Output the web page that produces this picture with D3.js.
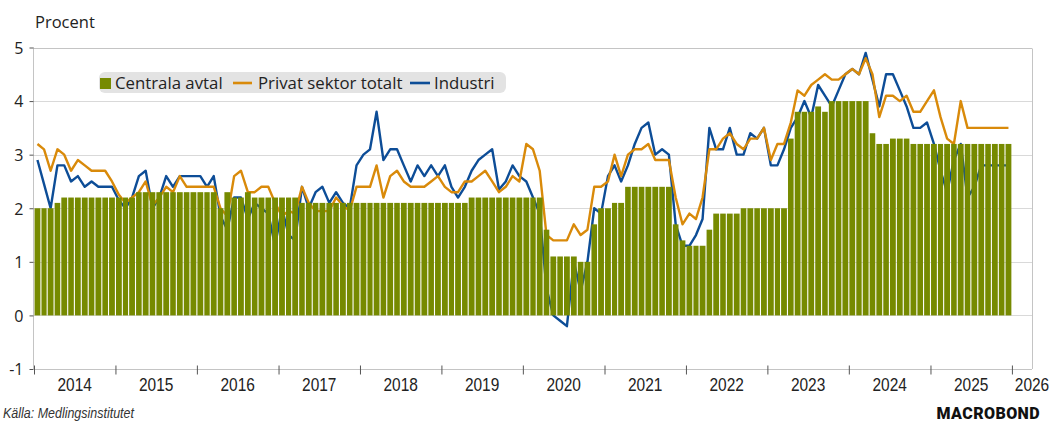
<!DOCTYPE html>
<html><head><meta charset="utf-8">
<script src="https://cdn.jsdelivr.net/npm/d3@7"></script>
<style>
body{margin:0;background:#fff;}
svg{display:block;font-family:"Open Sans","Noto Sans",sans-serif;}
</style>
</head><body><svg id="c" width="1054" height="422"></svg>
<script>
// ---- data (monthly, Jan 2014 - Dec 2025) ----
const startYear = 2014;
const centralaAvtal = [
  2.0,2.0,2.0,2.1,2.2,2.2,2.2,2.2,2.2,2.2,2.2,2.2,
  2.2,2.2,2.2,2.3,2.3,2.3,2.3,2.3,2.3,2.3,2.3,2.3,
  2.3,2.3,2.3,2.0,2.3,2.2,2.2,2.3,2.2,2.2,2.2,2.2,
  2.2,2.2,2.2,2.1,2.1,2.1,2.1,2.1,2.1,2.1,2.1,2.1,
  2.1,2.1,2.1,2.1,2.1,2.1,2.1,2.1,2.1,2.1,2.1,2.1,
  2.1,2.1,2.1,2.1,2.2,2.2,2.2,2.2,2.2,2.2,2.2,2.2,
  2.2,2.2,2.2,1.6,1.1,1.1,1.1,1.1,1.0,1.0,1.7,2.0,
  2.0,2.1,2.1,2.4,2.4,2.4,2.4,2.4,2.4,2.4,1.7,1.4,
  1.3,1.3,1.3,1.6,1.9,1.9,1.9,1.9,2.0,2.0,2.0,2.0,
  2.0,2.0,2.0,3.3,3.8,3.8,3.8,3.9,3.8,4.0,4.0,4.0,
  4.0,4.0,4.0,3.4,3.2,3.2,3.3,3.3,3.3,3.2,3.2,3.2,
  3.2,3.2,3.2,3.2,3.2,3.2,3.2,3.2,3.2,3.2,3.2,3.2
];
const privatSektorTotalt = [
  3.2,3.1,2.7,3.1,3.0,2.7,2.9,2.8,2.7,2.7,2.7,2.5,
  2.25,2.1,2.2,2.3,2.5,2.05,2.2,2.4,2.3,2.6,2.4,2.4,
  2.4,2.4,2.4,2.0,1.85,2.6,2.7,2.3,2.3,2.4,2.4,2.1,
  1.85,1.95,1.9,2.4,2.1,1.95,1.95,1.95,2.2,2.05,1.95,2.4,
  2.4,2.4,2.8,2.2,2.6,2.7,2.5,2.4,2.4,2.4,2.5,2.6,
  2.4,2.3,2.3,2.5,2.5,2.6,2.7,2.5,2.3,2.4,2.6,2.5,
  3.2,3.1,2.7,1.5,1.4,1.4,1.4,1.7,1.5,1.6,2.4,2.4,
  2.5,3.0,2.6,3.0,3.1,3.1,3.2,2.9,2.9,2.9,2.2,1.7,
  1.9,1.8,2.2,3.1,3.1,3.3,3.4,3.2,3.1,3.3,3.3,3.5,
  2.9,3.2,3.2,3.6,4.2,4.1,4.3,4.4,4.5,4.4,4.4,4.5,
  4.6,4.5,4.8,4.5,3.7,4.1,4.1,4.0,4.1,3.8,3.8,4.0,
  4.2,3.7,3.3,3.2,4.0,3.5,3.5,3.5,3.5,3.5,3.5,3.5
];
const industri = [
  2.9,2.45,2.0,2.8,2.8,2.5,2.6,2.4,2.5,2.4,2.4,2.4,
  2.15,2.0,2.2,2.6,2.7,2.0,2.2,2.6,2.4,2.6,2.6,2.6,
  2.6,2.4,2.6,1.85,1.6,2.2,2.2,1.8,2.1,2.0,1.9,1.3,
  2.0,1.5,1.4,2.4,2.0,2.3,2.4,2.1,2.3,2.1,2.0,2.8,
  3.0,3.1,3.8,2.9,3.1,3.1,2.8,2.5,2.8,2.6,2.8,2.6,
  2.8,2.4,2.2,2.4,2.7,2.9,3.0,3.1,2.35,2.5,2.8,2.6,
  2.5,2.2,1.9,0.5,0.0,-0.1,-0.2,1.0,0.45,1.0,2.0,1.9,
  2.6,2.8,2.5,2.8,3.2,3.5,3.6,3.0,3.1,3.0,1.7,1.3,
  1.3,1.5,1.8,3.5,3.1,3.1,3.5,3.0,3.0,3.4,3.3,3.5,
  2.8,2.8,3.1,3.5,3.7,4.0,3.7,4.3,4.1,3.9,4.2,4.5,
  4.6,4.5,4.9,4.4,3.9,4.5,4.5,4.2,3.9,3.5,3.5,3.6,
  3.2,2.7,2.3,2.9,3.2,2.2,2.4,2.8,2.8,2.8,2.8,2.8
];
const yTicks = [-1,0,1,2,3,4,5];
const yearLabels = ["2014","2015","2016","2017","2018","2019","2020","2021","2022","2023","2024","2025","2026"];
const seriesNames = ["Centrala avtal","Privat sektor totalt","Industri"];
const colors = {bar:"#768a00", privat:"#d98a0a", industri:"#0d4d97"};

// ---- layout ----
const L = 34, R = 1032, T = 47.5, B = 369;
const svg = d3.select("#c");
const sansArial = "'Liberation Sans',Arial,sans-serif";

const x = d3.scaleTime().domain([new Date(startYear,0,1), new Date(2026,3,1)]).range([L, R]);
const y = d3.scaleLinear().domain([-1, 5]).range([B, T]);
const mStart = i => x(new Date(startYear, i, 1));
const mEnd = i => x(new Date(startYear, i + 1, 1));
const mMid = i => (mStart(i) + mEnd(i)) / 2;

// gridlines
svg.append("g").selectAll("line").data(yTicks.filter(v => v > -1)).join("line")
  .attr("x1", L).attr("x2", R)
  .attr("y1", d => Math.round(y(d)) + 0.5).attr("y2", d => Math.round(y(d)) + 0.5)
  .attr("stroke", d => d === 5 ? "#c4c4c4" : "#d9d9d9").attr("stroke-width", 1);
// right border
svg.append("line").attr("x1", R + 0.5).attr("x2", R + 0.5).attr("y1", Math.round(y(5)) + 0.5).attr("y2", B)
  .attr("stroke", "#c4c4c4");

// lines (drawn behind bars)
const line = d3.line().x((d, i) => mMid(i)).y(d => y(d));
svg.append("path").datum(industri).attr("d", line)
  .attr("fill", "none").attr("stroke", colors.industri).attr("stroke-width", 2.4).attr("stroke-linejoin", "round");
svg.append("path").datum(privatSektorTotalt).attr("d", line)
  .attr("fill", "none").attr("stroke", colors.privat).attr("stroke-width", 2.4).attr("stroke-linejoin", "round");

// bars
const gap = 1.1;
svg.append("g").selectAll("rect").data(centralaAvtal).join("rect")
  .attr("x", (d, i) => mStart(i) + gap / 2)
  .attr("width", (d, i) => mEnd(i) - mStart(i) - gap)
  .attr("y", d => y(Math.max(0, d)))
  .attr("height", d => Math.abs(y(d) - y(0)))
  .attr("fill", colors.bar);

// y axis
const yAxis = d3.axisLeft(y).tickValues(yTicks).tickSize(4).tickFormat(d => String(d));
const gy = svg.append("g").attr("transform", `translate(${L - 0.5},0)`).call(yAxis);
gy.select(".domain").attr("stroke", "#c4c4c4").attr("d", `M0,${y(5)}V${B}`);
gy.selectAll(".tick line").attr("stroke", "#555");
gy.selectAll(".tick text").attr("x", -10).attr("dy", "0.36em").attr("font-size", 16).attr("fill", "#222")
  .attr("font-family", "'Open Sans',sans-serif");

// x axis
const yearDates = yearLabels.map(s => new Date(+s, 0, 1));
const xAxis = d3.axisBottom(x).tickValues(yearDates).tickSize(0).tickFormat("");
const gx = svg.append("g").attr("transform", `translate(0,${B + 0.5})`).call(xAxis);
gx.select(".domain").attr("stroke", "#c4c4c4").attr("d", `M${L},0H${R}`);
gx.selectAll(".tick").append("line").attr("y1", -4).attr("y2", 5).attr("stroke", "#555");
svg.append("g").selectAll("text").data(yearLabels).join("text")
  .attr("transform", (d, i) => {
    const cx = i < yearLabels.length - 1 ? (x(new Date(+d, 0, 1)) + x(new Date(+d + 1, 0, 1))) / 2 : R;
    return `translate(${cx},391) scale(0.86,1)`;
  })
  .attr("text-anchor", "middle")
  .attr("font-family", sansArial)
  .attr("font-size", 18).attr("fill", "#222")
  .text(d => d);

// axis unit
svg.append("text").attr("x", 35).attr("y", 28).attr("font-size", 16.5).attr("fill", "#222").text("Procent");

// legend
const lg = svg.append("g");
lg.append("rect").attr("x", 99).attr("y", 72).attr("width", 407).attr("height", 21).attr("rx", 6)
  .attr("fill", "#e3e3e3");
lg.append("rect").attr("x", 100).attr("y", 78).attr("width", 11).attr("height", 11).attr("fill", colors.bar);
lg.append("text").attr("x", 115).attr("y", 89).attr("font-size", 16.8).attr("fill", "#222").text(seriesNames[0]);
lg.append("line").attr("x1", 233).attr("x2", 252).attr("y1", 83).attr("y2", 83).attr("stroke", colors.privat).attr("stroke-width", 2.6);
lg.append("text").attr("x", 258).attr("y", 89).attr("font-size", 16.8).attr("fill", "#222").text(seriesNames[1]);
lg.append("line").attr("x1", 410).attr("x2", 430).attr("y1", 83).attr("y2", 83).attr("stroke", colors.industri).attr("stroke-width", 2.6);
lg.append("text").attr("x", 434).attr("y", 89).attr("font-size", 16.8).attr("fill", "#222").text(seriesNames[2]);

// footer
svg.append("text").attr("transform", "translate(3,418) scale(0.86,1)").attr("font-size", 14.5).attr("font-style", "italic")
  .attr("font-family", sansArial).attr("fill", "#333").text("Källa: Medlingsinstitutet");
svg.append("text").attr("x", 1040).attr("y", 419).attr("text-anchor", "end").attr("font-size", 16)
  .attr("font-weight", 900).attr("font-family", "Roboto, sans-serif").attr("letter-spacing", 0.4)
  .attr("fill", "#111").text("MACROBOND");
</script>
</body></html>
